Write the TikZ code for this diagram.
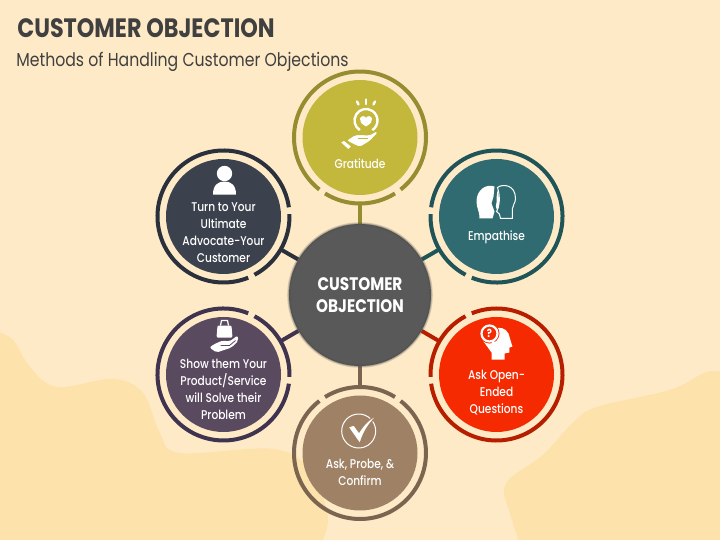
\documentclass[tikz,border=0pt]{standalone}
\usepackage{fontspec}
\setmainfont[FakeStretch=0.84]{Poppins}
\newfontfamily\bubblefont[FakeStretch=0.84]{Poppins Medium}
\usetikzlibrary{calc}
\definecolor{paper}{HTML}{FEEAC6}
\definecolor{blob}{HTML}{FEE2AB}
\definecolor{inktitle}{HTML}{404040}
\definecolor{hubgrey}{HTML}{595959}
\definecolor{oliveA}{HTML}{C3B73C}
\definecolor{oliveB}{HTML}{958D2F}
\definecolor{tealA}{HTML}{2F6B70}
\definecolor{tealB}{HTML}{1F5458}
\definecolor{redA}{HTML}{F52A00}
\definecolor{redB}{HTML}{B71E00}
\definecolor{brownA}{HTML}{9F8265}
\definecolor{brownB}{HTML}{7B6550}
\definecolor{plumA}{HTML}{5A4A60}
\definecolor{plumB}{HTML}{3F3350}
\definecolor{slateA}{HTML}{3C424D}
\definecolor{slateB}{HTML}{2A303C}
\tikzset{
	bubble/.style={circle, fill=#1, inner sep=0, minimum size=2.875cm, outer sep=0.2125cm},
	ringline/.style={line width=1mm, color=#1},
	spoke/.style={line width=1mm, color=#1},
	bubbletext/.style={text=white, align=center, font=\fontsize{9}{12.1}\bubblefont\selectfont},
	hubglow/.style={color=#1, opacity=0.2},
	iconpx/.style={x=0.025cm, y=-0.025cm, shift={(#1)}}
}
% two pieces of ring: a short one facing the hub, a long one round the back
\def\ringparts#1#2#3{
	\draw[ringline=#3] ($(#1)+(#2-32:1.65)$) arc (#2-32:#2+32:1.65);
	\draw[ringline=#3] ($(#1)+(#2+38:1.65)$) arc (#2+38:#2+322:1.65);
}

\begin{document}
\begin{tikzpicture}
	\useasboundingbox (0, 0) rectangle (18, 13.5);
	\fill[paper] (0, 0) rectangle (18, 13.5);

	% background blobs, in pixels of the slide
	\begin{scope}[x=0.025cm, y=-0.025cm, yshift=13.5cm]
		\clip (0, 0) rectangle (720, 540);
		\fill[blob] plot[smooth, tension=0.6] coordinates {(-5, 331) (13, 340) (30, 367) (57, 387) (113, 379) (143, 393) (160, 433) (180, 453) (273, 449) (310, 470) (328, 517) (320, 545)} -- (-5, 545) -- cycle;
		\fill[blob] plot[smooth, tension=0.6] coordinates {(725, 373) (707, 372) (670, 390) (597, 407) (573, 423) (543, 455) (512, 477) (504, 491) (509, 510) (520, 545)} -- (725, 545) -- cycle;
	\end{scope}

	\node[anchor=west, inner sep=0, inktitle, font=\fontsize{18.9}{22}\bfseries\selectfont] (title) at (0.425, 12.8) {CUSTOMER OBJECTION};
	\node[anchor=west, inner sep=0, inktitle, font=\fontsize{13.3}{16}\selectfont] (subtitle) at (0.4, 11.95) {Methods of Handling Customer Objections};

	\node[bubble=oliveA] (gratitude) at (9, 10.0625) {};
	\node[bubble=tealA] (empathise) at (12.4125, 8.0875) {};
	\node[bubble=redA] (openended) at (12.4125, 4.1375) {};
	\node[bubble=brownA] (confirm) at (9, 2.175) {};
	\node[bubble=plumA] (product) at (5.5875, 4.1375) {};
	\node[bubble=slateA] (advocate) at (5.5875, 8.0875) {};
	\node[circle, fill=hubgrey, inner sep=0, minimum size=3.55cm, text=white, align=center, font=\fontsize{12.9}{15.6}\bfseries\selectfont] (hub) at (9, 6.125) {CUSTOMER\\OBJECTION};

	\ringparts{gratitude}{-90}{oliveB}
	\ringparts{empathise}{-150}{tealB}
	\ringparts{openended}{150}{redB}
	\ringparts{confirm}{90}{brownB}
	\ringparts{product}{30}{plumB}
	\ringparts{advocate}{-30}{slateB}

	\draw[spoke=oliveB] (hub) -- (gratitude);
	\draw[spoke=tealB] (hub) -- (empathise);
	\draw[spoke=redB] (hub) -- (openended);
	\draw[spoke=brownB] (hub) -- (confirm);
	\draw[spoke=plumB] (hub) -- (product);
	\draw[spoke=slateB] (hub) -- (advocate);

	\draw[hubglow=black!70, line width=0.2mm] (hub.center) circle (1.775);
	\draw[hubglow=black!70, line width=0.5mm] (hub.center) circle (1.775);
	\draw[hubglow=black!70, line width=0.9mm] (hub.center) circle (1.775);

	\node[bubbletext] (gratitudetext) at (9, 9.4) {Gratitude};
	\node[bubbletext] (empathisetext) at (12.4125, 7.575) {Empathise};
	\node[bubbletext] (openendedtext) at (12.4125, 3.675) {Ask Open-\\Ended\\Questions};
	\node[bubbletext] (confirmtext) at (9, 1.6875) {Ask, Probe, \&\\Confirm};
	\node[bubbletext] (producttext) at (5.5875, 3.7625) {Show them Your\\Product/Service\\will Solve their\\Problem};
	\node[bubbletext] (advocatetext) at (5.5875, 7.6875) {Turn to Your\\Ultimate\\Advocate-Your\\Customer};

	% hand, heart and rays
	\begin{scope}[iconpx=gratitude]
		\draw[white, line width=0.6mm] (-0.26, -7.36) arc (123:417:11.5);
		\fill[white] (6, -11) .. controls (1, -14) and (-0.5, -16) .. (0, -19) .. controls (1, -22) and (5, -22) .. (6, -19.5) .. controls (7, -22) and (11, -22) .. (12, -19) .. controls (12.5, -16) and (11, -14) .. (6, -11) -- cycle;
		\draw[white, line width=0.6mm, line cap=round] (-3, -36) -- (-1.5, -33);
		\draw[white, line width=0.6mm, line cap=round] (6, -38) -- (6, -33.5);
		\draw[white, line width=0.6mm, line cap=round] (15, -36) -- (13.5, -33);
		\draw[oliveA, line width=0.3mm, fill=white] (-20, 5) -- (-16, 2.5) -- (-8, 9) -- (-11.5, 12.5) -- cycle;
		\draw[oliveA, line width=0.3mm, fill=white, rounded corners=0.5mm] (-14, 3) -- (-5, -3) -- (3, -3) -- (9, -2.5) -- (17, -7) -- (18.5, -5) -- (10, 4) -- (0, 10) -- (-7, 7) -- cycle;
		\draw[oliveA, line width=0.2mm] (-2, 1) -- (8, 1);
	\end{scope}

	% two heads
	\begin{scope}[iconpx=empathise]
		\fill[white] (-17, 2) .. controls (-17, -6) and (-20, -8) .. (-20, -15) .. controls (-20, -27) and (-10, -33) .. (-2, -30) -- (-3, -20) -- (-5, -13) -- (-2, -5) -- (-4, 2) -- cycle;
		\draw[white, line width=0.25mm] (1, -29) .. controls (6, -33) and (19, -32) .. (19, -18) .. controls (19, -13) and (16, -12) .. (16, -8) -- (16, 2) -- (4, 2) .. controls (3, -2) and (3, -4) .. (0, -5) .. controls (3, -10) and (4, -20) .. (1, -29) -- cycle;
		\fill[white] (1, -26) .. controls (3, -20) and (3, -10) .. (1, -6) .. controls (-1, -9) and (-1, -12) .. (0, -14) -- (0, -19) -- cycle;
	\end{scope}

	% head with question mark
	\begin{scope}[iconpx=openended]
		\fill[white] (-13, -33) .. controls (-10, -46) and (6, -52) .. (12, -41) -- (15, -31) -- (16, -28) -- (13, -27) -- (13, -22) -- (8, -21) -- (8, -15) -- (-5, -15) -- (-5, -22) -- cycle;
		\fill[redA] (-7, -41) circle (10);
		\draw[white, line width=0.55mm, fill=redA] (-7, -41) circle (8);
		\fill[white] (-3, -34) -- (1, -30) -- (-5, -32) -- cycle;
		\node[text=white, inner sep=0, font=\fontsize{8}{8}\bfseries\selectfont] (questionmark) at (-7, -41) {?};
	\end{scope}

	% tick in a circle
	\begin{scope}[iconpx=confirm]
		\draw[white, line width=0.25mm] (-1.3, -22) circle (17);
		\draw[brownA, fill=white, line width=0.3mm] (-12, -26) -- (-6, -28) -- (-1, -21) .. controls (4, -29) and (10, -35) .. (18, -38) .. controls (9, -30) and (3, -20) .. (0, -9) -- cycle;
	\end{scope}

	% bag over a hand
	\begin{scope}[iconpx=product]
		\fill[white, rounded corners=0.3mm] (-7, -37) -- (-6, -49) -- (8, -49) -- (9, -37) -- cycle;
		\draw[white, line width=0.3mm] (-3, -49) -- (-2, -54) -- (4, -54) -- (5, -49);
		\fill[white, rounded corners=0.5mm] (-10, -30) -- (-1, -34) -- (6, -33) -- (14, -39) -- (15, -34) -- (8, -27) -- (-1, -24) -- (-7, -22) -- (-14, -27) -- cycle;
		\draw[plumA, line width=0.2mm] (-3, -29) -- (6, -29) -- (12, -34);
	\end{scope}

	% person
	\begin{scope}[iconpx=advocate]
		\fill[white] (1, -43) circle (7.7);
		\fill[white] (-10.5, -22) .. controls (-10.5, -32) and (-5, -35) .. (1, -35) .. controls (7, -35) and (12.5, -32) .. (12.5, -22) -- cycle;
	\end{scope}
\end{tikzpicture}
\end{document}
